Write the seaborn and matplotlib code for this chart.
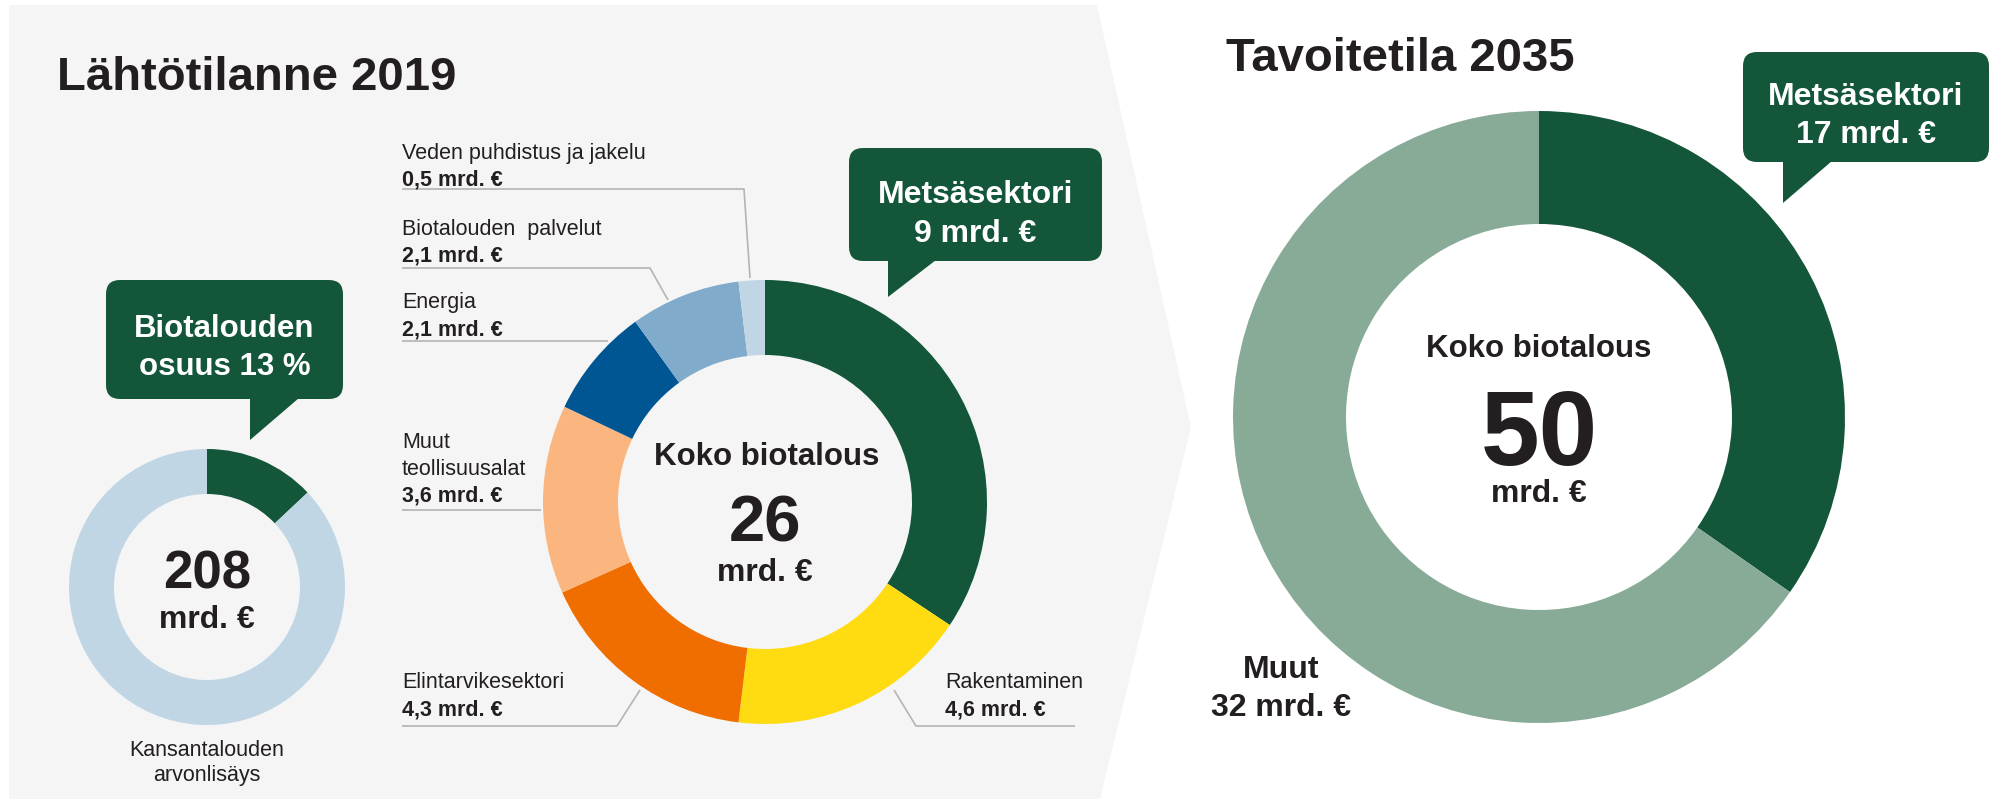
import matplotlib
matplotlib.use("Agg")
import matplotlib.pyplot as plt
import seaborn as sns
from matplotlib.patches import FancyBboxPatch, Polygon

# --- data -------------------------------------------------------------
gdp_total = 208                      # kansantalouden arvonlisäys, mrd. €
bio_share = [13, 87]                 # biotalouden osuus %, muu %

sectors_2019 = ["Metsäsektori", "Rakentaminen", "Elintarvikesektori",
                "Muut\nteollisuusalat", "Energia", "Biotalouden  palvelut",
                "Veden puhdistus ja jakelu"]
values_2019 = [9, 4.6, 4.3, 3.6, 2.1, 2.1, 0.5]
total_2019 = 26

sectors_2035 = ["Metsäsektori", "Muut"]
values_2035 = [17, 32]
total_2035 = 50

# --- style ------------------------------------------------------------
sns.set_theme(style="white")
plt.rcParams["font.family"] = ["Liberation Sans", "DejaVu Sans"]

DARK = "#231f20"
GREEN = "#13563a"
LINE = "#b4b4b4"
PANEL = "#f5f5f5"
pal_2019 = sns.color_palette(["#13563a", "#ffdc12", "#f06e00", "#fab67e",
                              "#005693", "#80abcb", "#c0d6e4"])
pal_gdp = sns.color_palette(["#13563a", "#c0d6e4"])
pal_2035 = sns.color_palette(["#13563a", "#88ab98"])

W, H = 2004, 804
fig = plt.figure(figsize=(W / 100, H / 100), dpi=100)
ax = fig.add_axes([0, 0, 1, 1])


def Y(y):
    # picture rows run downwards, data y upwards
    return H - y


def mrd(v):
    s = f"{v:.1f}" if v % 1 else f"{v:.0f}"
    return s.replace(".", ",") + " mrd. €"


def donut(values, colors, cx, cy, r, r_in):
    ax.pie(values, colors=colors, radius=r, center=(cx, Y(cy)),
           startangle=90, counterclock=False, frame=True,
           wedgeprops=dict(width=r - r_in, linewidth=0))


def callout(x0, x1, y0, y1, tail_l, tail_r, tip_y, lines, size):
    box = FancyBboxPatch((x0, Y(y1)), x1 - x0, y1 - y0,
                         boxstyle="round,pad=0,rounding_size=14",
                         facecolor=GREEN, edgecolor="none", zorder=3)
    ax.add_patch(box)
    tail = Polygon([(tail_l, Y(y1) + 1), (tail_r, Y(y1) + 1), (tail_l, Y(tip_y))],
                   closed=True, facecolor=GREEN, edgecolor="none", zorder=3)
    ax.add_patch(tail)
    for txt, ty in lines:
        ax.text((x0 + x1) / 2, Y(ty), txt, color="white", fontsize=size,
                fontweight="bold", ha="center", va="center", zorder=4)


# background panel (chevron)
ax.add_patch(Polygon([(9, Y(6)), (1097, Y(6)), (1191, Y(428)),
                      (1100, Y(800)), (9, Y(800))],
                     closed=True, facecolor=PANEL, edgecolor="none", zorder=0))

# --- donuts -----------------------------------------------------------
donut(bio_share, pal_gdp, 207, 588, 138, 93)
donut(values_2019, pal_2019, 765, 503, 222, 147)
donut(values_2035, pal_2035, 1539, 418, 306, 193)

# --- titles -----------------------------------------------------------
ax.text(57, Y(78), "Lähtötilanne 2019", fontsize=34, fontweight="bold",
        color=DARK, ha="left", va="center")
ax.text(1226, Y(59), "Tavoitetila 2035", fontsize=34, fontweight="bold",
        color=DARK, ha="left", va="center")

# --- small donut ------------------------------------------------------
ax.text(207, Y(575), str(gdp_total), fontsize=38, fontweight="bold",
        color=DARK, ha="center", va="center")
ax.text(207, Y(620), "mrd. €", fontsize=23, fontweight="bold",
        color=DARK, ha="center", va="center")
ax.text(207, Y(763), "Kansantalouden\narvonlisäys", fontsize=15.5,
        color=DARK, ha="center", va="center", linespacing=1.25)
callout(106, 343, 281, 400, 250, 299, 441,
        [("Biotalouden", 329), (f"osuus {bio_share[0]} %", 367)], 22.5)

# --- 2019 donut -------------------------------------------------------
ax.text(767, Y(457), "Koko biotalous", fontsize=22.5, fontweight="bold",
        color=DARK, ha="center", va="center")
ax.text(765, Y(525), str(total_2019), fontsize=47, fontweight="bold",
        color=DARK, ha="center", va="center")
ax.text(765, Y(573), "mrd. €", fontsize=23, fontweight="bold",
        color=DARK, ha="center", va="center")
callout(849, 1102, 149, 262, 888, 936, 298,
        [(sectors_2019[0], 195), (mrd(values_2019[0]), 234)], 23)

# side labels: (index, x, first line y, leader path)
label_spec = [
    (6, 402, 153, [(402, 190), (744, 190), (750, 279)]),
    (5, 402, 229, [(402, 269), (650, 269), (668, 301)]),
    (4, 402, 303, [(402, 342), (608, 342)]),
    (3, 402, 443, [(402, 511), (541, 511)]),
    (2, 402, 683, [(402, 727), (617, 727), (640, 691)]),
    (1, 945, 683, [(1075, 727), (916, 727), (894, 691)]),
]
step = 26.7
for i, lx, ly, path in label_spec:
    name_lines = sectors_2019[i].split("\n")
    for k, nl in enumerate(name_lines):
        ax.text(lx, Y(ly + k * step), nl, fontsize=15.5, color=DARK,
                ha="left", va="center")
    ax.text(lx, Y(ly + len(name_lines) * step), mrd(values_2019[i]),
            fontsize=15.5, fontweight="bold", color=DARK,
            ha="left", va="center")
    ax.plot([p[0] for p in path], [Y(p[1]) for p in path],
            color=LINE, lw=1.2, solid_capstyle="butt", zorder=2)

# --- 2035 donut -------------------------------------------------------
ax.text(1539, Y(349), "Koko biotalous", fontsize=22.5, fontweight="bold",
        color=DARK, ha="center", va="center")
ax.text(1539, Y(438), str(total_2035), fontsize=76, fontweight="bold",
        color=DARK, ha="center", va="center")
ax.text(1539, Y(494), "mrd. €", fontsize=23, fontweight="bold",
        color=DARK, ha="center", va="center")
callout(1743, 1989, 53, 163, 1783, 1832, 204,
        [(sectors_2035[0], 97), (mrd(values_2035[0]), 135)], 23)
ax.text(1281, Y(670), sectors_2035[1], fontsize=23, fontweight="bold",
        color=DARK, ha="center", va="center")
ax.text(1281, Y(708), mrd(values_2035[1]), fontsize=23, fontweight="bold",
        color=DARK, ha="center", va="center")

ax.set_xlim(0, W)
ax.set_ylim(0, H)
ax.set_aspect("equal")
ax.axis("off")

fig.savefig("out.png", dpi=100, facecolor="white")
